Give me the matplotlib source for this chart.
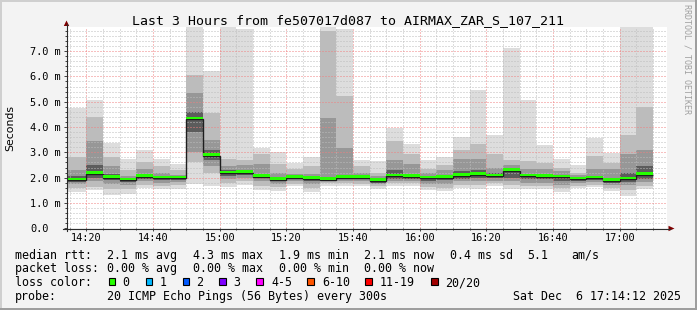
import matplotlib
matplotlib.use("Agg")
import matplotlib.pyplot as plt
import numpy as np
from matplotlib.patches import Rectangle, Polygon
from matplotlib.lines import Line2D
from matplotlib.ticker import FixedLocator, MultipleLocator

W, H, DPI = 697, 310, 100

# ---------------- data ----------------
title = "Last 3 Hours from fe507017d087 to AIRMAX_ZAR_S_107_211"
y_label = "Seconds"
window = ("14:14:12", "17:14:12")
bar_len_min = 5
bar_starts = ["14:15", "14:20", "14:25", "14:30", "14:35", "14:40", "14:45", "14:50",
              "14:55", "15:00", "15:05", "15:10", "15:15", "15:20", "15:25", "15:30",
              "15:35", "15:40", "15:45", "15:50", "15:55", "16:00", "16:05", "16:10",
              "16:15", "16:20", "16:25", "16:30", "16:35", "16:40", "16:45", "16:50",
              "16:55", "17:00", "17:05"]

# smoke bands (ms): outermost (min..max) to innermost (lo4..hi4)
ping_min = [1.42, 1.50, 1.33, 1.37, 1.58, 1.54, 1.57, 1.74, 1.68, 1.65, 1.70, 1.50,
            1.47, 1.67, 1.45, 1.67, 1.67, 1.67, 1.57, 1.67, 1.67, 1.50, 1.47, 1.60,
            1.57, 1.67, 1.54, 1.54, 1.54, 1.45, 1.58, 1.63, 1.47, 1.28, 1.54]
lo2 = [1.60, 1.65, 1.55, 1.55, 1.72, 1.68, 1.70, 2.60, 2.20, 1.80, 1.85, 1.68,
       1.62, 1.75, 1.60, 1.78, 1.78, 1.75, 1.67, 1.78, 1.78, 1.62, 1.60, 1.72,
       1.72, 1.78, 1.70, 1.68, 1.68, 1.58, 1.68, 1.73, 1.60, 1.50, 1.68]
lo3 = [1.75, 1.85, 1.75, 1.70, 1.85, 1.80, 1.82, 3.00, 2.45, 1.95, 1.98, 1.85,
       1.75, 1.85, 1.75, 1.85, 1.88, 1.85, 1.75, 1.88, 1.88, 1.75, 1.75, 1.85,
       1.85, 1.88, 1.85, 1.80, 1.80, 1.72, 1.78, 1.82, 1.72, 1.70, 1.82]
lo4 = [1.82, 2.00, 1.90, 1.82, 1.95, 1.90, 1.92, 3.80, 2.70, 2.05, 2.10, 1.97,
       1.85, 1.93, 1.88, 1.88, 1.93, 1.93, 1.80, 1.95, 1.96, 1.88, 1.90, 1.95,
       1.97, 1.97, 2.00, 1.95, 1.93, 1.88, 1.86, 1.90, 1.80, 1.83, 1.95]
median = [1.90, 2.16, 1.99, 1.89, 2.03, 1.97, 1.97, 4.30, 2.86, 2.17, 2.20, 2.04,
          1.91, 1.99, 1.95, 1.91, 1.99, 1.99, 1.87, 2.05, 2.04, 1.97, 2.00, 2.07,
          2.12, 2.05, 2.28, 2.05, 2.03, 2.01, 1.93, 1.97, 1.88, 1.93, 2.12]
hi4 = [2.05, 2.50, 2.15, 1.97, 2.12, 2.05, 2.03, 4.60, 3.10, 2.30, 2.30, 2.15,
       2.00, 2.05, 2.02, 2.00, 2.10, 2.08, 1.95, 2.30, 2.15, 2.05, 2.10, 2.25,
       2.30, 2.20, 2.40, 2.15, 2.12, 2.10, 2.00, 2.08, 2.00, 2.20, 2.45]
hi3 = [2.30, 3.45, 2.45, 2.05, 2.33, 2.20, 2.12, 5.36, 3.50, 2.45, 2.49, 2.53,
       2.20, 2.13, 2.15, 4.37, 3.18, 2.20, 2.05, 2.70, 2.55, 2.20, 2.30, 2.72,
       2.75, 2.40, 2.50, 2.33, 2.33, 2.25, 2.10, 2.33, 2.33, 2.92, 3.09]
hi2 = [2.83, 4.39, 2.80, 2.30, 2.62, 2.46, 2.30, 6.04, 4.57, 2.72, 2.68, 2.92,
       2.53, 2.33, 2.46, 7.80, 5.22, 2.46, 2.20, 3.45, 2.95, 2.33, 2.50, 3.08,
       3.32, 2.92, 2.70, 2.66, 2.59, 2.39, 2.20, 2.86, 2.59, 3.67, 4.79]
ping_max = [4.77, 5.07, 3.38, 2.75, 3.08, 2.75, 2.55, 8.50, 6.21, 8.30, 7.86, 3.18,
            3.03, 2.59, 2.82, 8.50, 7.88, 2.68, 2.66, 3.97, 3.32, 2.68, 2.82, 3.60,
            5.46, 3.67, 7.13, 5.07, 3.29, 2.75, 2.49, 3.58, 2.99, 8.30, 8.30]

x_major_labels = ["14:20", "14:40", "15:00", "15:20", "15:40", "16:00", "16:20", "16:40", "17:00"]
y_major_values = [0, 1, 2, 3, 4, 5, 6, 7]
y_major_labels = ["0.0", "1.0 m", "2.0 m", "3.0 m", "4.0 m", "5.0 m", "6.0 m", "7.0 m"]
y_top = 7.94

stats_rtt = ["2.1 ms avg", "4.3 ms max", "1.9 ms min", "2.1 ms now", "0.4 ms sd", "5.1", "am/s"]
stats_loss = ["0.00 % avg", "0.00 % max", "0.00 % min", "0.00 % now"]
loss_names = ["0", "1", "2", "3", "4-5", "6-10", "11-19", "20/20"]
loss_colors = ["#26ff00", "#00b8ff", "#0059ff", "#7e00ff", "#ff00ff", "#ff5500", "#ff0000", "#a10000"]
probe_text = "20 ICMP Echo Pings (56 Bytes) every 300s"
stamp_text = "Sat Dec  6 17:14:12 2025"
watermark = "RRDTOOL / TOBI OETIKER"


# ---------------- helpers ----------------
def to_min(s):
    parts = [int(p) for p in s.split(":")]
    while len(parts) < 3:
        parts.append(0)
    return parts[0] * 60 + parts[1] + parts[2] / 60.0


def fx(x):
    return x / W


def fy(y):
    return 1 - y / H


mono = "DejaVu Sans Mono"
xlo, xhi = to_min(window[0]), to_min(window[1])
edges = [to_min(s) for s in bar_starts] + [to_min(bar_starts[-1]) + bar_len_min]
edges[0] = xlo

fig = plt.figure(figsize=(W / DPI, H / DPI), dpi=DPI)
fig.patch.set_facecolor("#f3f3f3")

L, R, T, B = 67, 667, 27.3, 228.3
ax = fig.add_axes([fx(L), fy(B), (R - L) / W, (B - T) / H])
ax.set_facecolor("white")
ax.set_xlim(xlo, xhi)
ax.set_ylim(0, y_top)
for sp in ax.spines.values():
    sp.set_visible(False)

# smoke
greys = ["#dddddd", "#bcbcbc", "#979797", "#5c5c5c"]
bands = [(ping_min, ping_max), (lo2, hi2), (lo3, hi3), (lo4, hi4)]
for (lo, hi), c in zip(bands, greys):
    ax.stairs(np.array(hi), edges, baseline=np.array(lo), fill=True,
              color=c, lw=0, zorder=1)

med = np.array(median)
ax.stairs(med, edges, baseline=None, color="#1e1e1e", lw=1.0, zorder=3)
ax.stairs(med + 0.10, edges, baseline=med, fill=True, color=loss_colors[0], lw=0, zorder=4)

# ticks / grid
ax.xaxis.set_major_locator(FixedLocator([to_min(s) for s in x_major_labels]))
ax.set_xticklabels(x_major_labels)
ax.xaxis.set_minor_locator(FixedLocator(np.arange(to_min(bar_starts[0]), xhi, bar_len_min)))
ax.set_yticks(y_major_values, y_major_labels)
ax.yaxis.set_minor_locator(MultipleLocator(0.2))
ax.set_axisbelow(False)
ax.grid(which="minor", color="#bdbdbd", lw=0.72, ls=(0, (1, 2)))
ax.grid(which="major", color="#f08080", lw=0.72, ls=(0, (1, 2)))

ax.tick_params(axis="y", which="major", length=2.2, width=0.7, color="#404040",
               pad=24.4, labelsize=7.4)
ax.tick_params(axis="y", which="minor", length=1.5, width=0.7, color="#404040")
ax.tick_params(axis="x", which="major", length=2.2, width=0.7, color="#404040",
               pad=1.2, labelsize=7.4)
ax.tick_params(axis="x", which="minor", length=1.5, width=0.7, color="#404040")
for t in ax.get_yticklabels():
    t.set_ha("left")
    t.set_family(mono)
for t in ax.get_xticklabels():
    t.set_family(mono)

# axis lines and arrows
axis_c = "#2c2c2c"
fig.add_artist(Line2D([fx(66.5), fx(66.5)], [fy(231), fy(24)], color=axis_c, lw=0.8))
fig.add_artist(Line2D([fx(63), fx(670)], [fy(228.5), fy(228.5)], color=axis_c, lw=0.8))
fig.add_artist(Polygon([(fx(63.8), fy(26)), (fx(69.2), fy(26)), (fx(66.5), fy(20.5))],
                       closed=True, color="#7f0000", lw=0))
fig.add_artist(Polygon([(fx(668.5), fy(225.8)), (fx(668.5), fy(231.2)), (fx(674.5), fy(228.5))],
                       closed=True, color="#7f0000", lw=0))

# frame shading
fig.add_artist(Rectangle((0, 1 - 2 / H), 1, 2 / H, transform=fig.transFigure, color="#cfcfcf", lw=0))
fig.add_artist(Rectangle((0, 0), 2 / W, 1, transform=fig.transFigure, color="#cfcfcf", lw=0))
fig.add_artist(Rectangle((0, 0), 1, 2 / H, transform=fig.transFigure, color="#9e9e9e", lw=0))
fig.add_artist(Rectangle((1 - 2 / W, 0), 2 / W, 1, transform=fig.transFigure, color="#9e9e9e", lw=0))

# texts
fig.text(fx(347.8), fy(24.3), title, ha="center", va="baseline", family=mono, size=9.5)
fig.text(fx(10), fy(128), y_label, rotation=90, ha="center", va="center",
         family="DejaVu Sans", size=7.8)
fig.text(fx(687.5), fy(4.5), watermark, rotation=-90, ha="center", va="top",
         family=mono, size=6.0, color="#a0a0a0")

LS = 8.4
col_x = [106.6, 192.6, 278.6, 364.3, 450.3, 527.6, 571.0]
rows_y = [258.7, 272.4, 286.1, 299.8]

fig.text(fx(15.3), fy(rows_y[0]), "median rtt:", va="baseline", family=mono, size=LS)
for x, s in zip(col_x, stats_rtt):
    fig.text(fx(x), fy(rows_y[0]), s, va="baseline", family=mono, size=LS)

fig.text(fx(15.3), fy(rows_y[1]), "packet loss:", va="baseline", family=mono, size=LS)
for x, s in zip(col_x, stats_loss):
    fig.text(fx(x), fy(rows_y[1]), s, va="baseline", family=mono, size=LS)

fig.text(fx(15.3), fy(rows_y[2]), "loss color:", va="baseline", family=mono, size=LS)
sq_x = [108.7, 145.7, 182.7, 219.3, 256.0, 307.3, 365.3, 431.0]
lab_x = [122.6, 159.3, 196.3, 233.3, 271.3, 322.3, 380.0, 445.0]
for sx, lx, name, c in zip(sq_x, lab_x, loss_names, loss_colors):
    fig.add_artist(Rectangle((fx(sx), fy(284.8)), 6.6 / W, 6.6 / H, transform=fig.transFigure,
                             facecolor=c, edgecolor="black", lw=0.8))
    fig.text(fx(lx), fy(rows_y[2]), name, va="baseline", family=mono, size=LS)

fig.text(fx(15.3), fy(rows_y[3]), "probe:", va="baseline", family=mono, size=LS)
fig.text(fx(106.6), fy(rows_y[3]), probe_text, va="baseline", family=mono, size=LS)
fig.text(fx(512.6), fy(rows_y[3]), stamp_text, va="baseline", family=mono, size=LS)

fig.savefig("out.png", dpi=DPI, facecolor=fig.get_facecolor())
